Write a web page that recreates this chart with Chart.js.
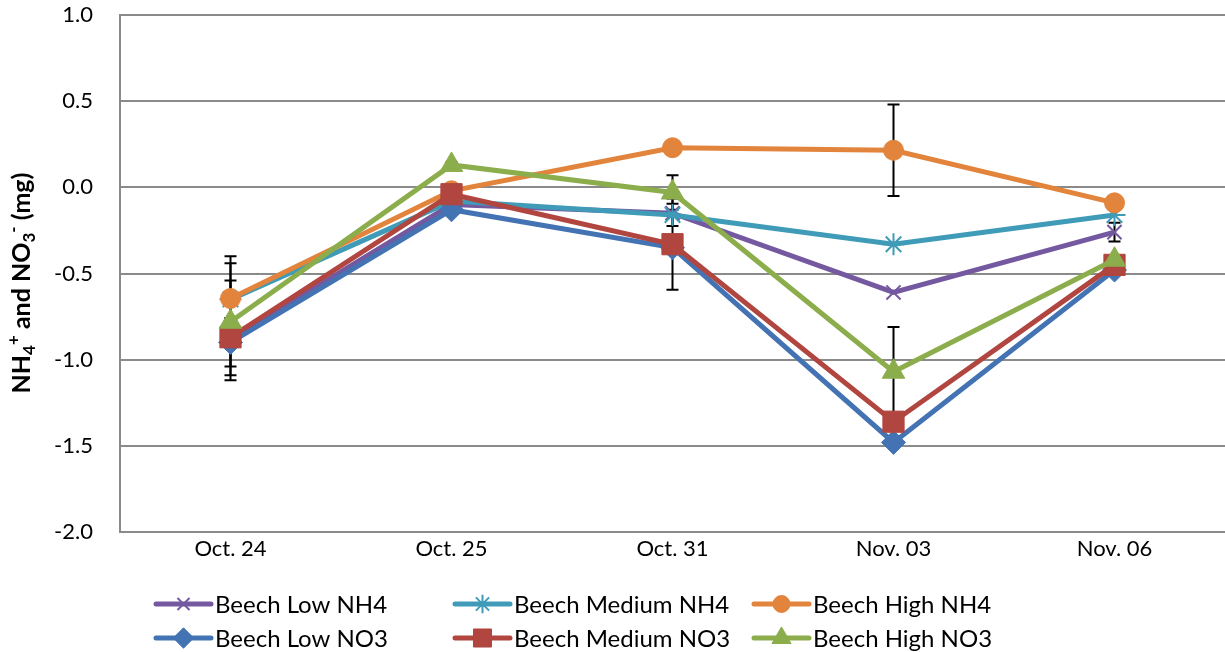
<!DOCTYPE html>
<html>
<head>
<meta charset="utf-8">
<script src="https://cdn.jsdelivr.net/npm/chart.js@4/dist/chart.umd.min.js"></script>
<style>
  html, body { margin: 0; padding: 0; background: #fff; overflow: hidden; }
  canvas { display: block; }
</style>
</head>
<body>
<canvas id="lineChart" width="1225" height="652"></canvas>
<script>
// data
const dates = ['Oct. 24', 'Oct. 25', 'Oct. 31', 'Nov. 03', 'Nov. 06'];
const yTicks = [1.0, 0.5, 0.0, -0.5, -1.0, -1.5, -2.0];

const lowNH4  = [-0.88, -0.10, -0.15, -0.61, -0.26];
const medNH4  = [-0.65, -0.08, -0.16, -0.33, -0.16];
const highNH4 = [-0.645, -0.02, 0.23, 0.215, -0.09];
const lowNO3  = [-0.90, -0.13, -0.35, -1.48, -0.48];
const medNO3  = [-0.87, -0.04, -0.33, -1.36, -0.45];
const highNO3 = [-0.78, 0.13, -0.03, -1.07, -0.42];

// error bar half widths (0 = none)
const lowNH4Err  = [0, 0, 0, 0, 0.055];
const medNH4Err  = [0.11, 0, 0.065, 0, 0];
const highNH4Err = [0.245, 0, 0, 0.265, 0];
const lowNO3Err  = [0.14, 0, 0, 0, 0];
const medNO3Err  = [0.22, 0, 0.265, 0, 0];
const highNO3Err = [0.34, 0.015, 0.10, 0.26, 0];

const seriesNames = ['Beech Low NH4', 'Beech Medium NH4', 'Beech High NH4',
                     'Beech Low NO3', 'Beech Medium NO3', 'Beech High NO3'];

const FONT = 'Lato, "Open Sans", sans-serif';

// style per series
const styles = [
  { color: '#7458a0', point: 'crossRot', r: 10, bw: 2 },
  { color: '#3f9bb7', point: 'star', r: 11, bw: 2 },
  { color: '#e2843c', point: 'circle', r: 10, bw: 1 },
  { color: '#4373b3', point: 'rectRot', r: 12, bw: 1 },
  { color: '#b0463f', point: 'rect', r: 15, bw: 1 },
  { color: '#8cad4b', point: 'triangle', r: 13, bw: 1 }
];
const allValues = [lowNH4, medNH4, highNH4, lowNO3, medNO3, highNO3];
const allErrors = [lowNH4Err, medNH4Err, highNH4Err, lowNO3Err, medNO3Err, highNO3Err];

const datasets = seriesNames.map((name, i) => ({
  label: name,
  data: allValues[i],
  errors: allErrors[i],
  borderColor: styles[i].color,
  backgroundColor: styles[i].color,
  borderWidth: 5,
  pointStyle: styles[i].point,
  pointRadius: styles[i].r,
  pointHoverRadius: styles[i].r,
  pointBorderWidth: styles[i].bw,
  pointBorderColor: styles[i].color,
  pointBackgroundColor: styles[i].color,
  tension: 0,
  order: 5 - i   // later series sit on top, like Excel
}));

// error bars, drawn under the lines/markers
const errorBars = {
  id: 'errorBars',
  beforeDatasetsDraw(chart) {
    const ctx = chart.ctx;
    const ys = chart.scales.y;
    ctx.save();
    ctx.strokeStyle = '#000';
    ctx.lineWidth = 2;
    chart.data.datasets.forEach((ds, di) => {
      const meta = chart.getDatasetMeta(di);
      ds.data.forEach((v, j) => {
        const e = ds.errors[j];
        if (!e) return;
        const x = meta.data[j].x;
        const top = ys.getPixelForValue(v + e);
        const bot = ys.getPixelForValue(v - e);
        ctx.beginPath();
        ctx.moveTo(x, top); ctx.lineTo(x, bot);
        ctx.moveTo(x - 6, top); ctx.lineTo(x + 6, top);
        ctx.moveTo(x - 6, bot); ctx.lineTo(x + 6, bot);
        ctx.stroke();
      });
    });
    ctx.restore();
  }
};

// y-axis title with sub / superscripts
const yTitle = {
  id: 'yTitle',
  afterDraw(chart) {
    const ctx = chart.ctx;
    const parts = [
      ['NH', 0], ['4', 1], ['+', -1], [' and NO', 0], ['3', 1], ['-', -1], [' (mg)', 0]
    ];
    const big = 'bold 25px ' + FONT;
    const small = 'bold 17px ' + FONT;
    ctx.save();
    let total = 0;
    parts.forEach(p => { ctx.font = p[1] ? small : big; total += ctx.measureText(p[0]).width; });
    ctx.translate(30, 283);
    ctx.rotate(-Math.PI / 2);
    ctx.fillStyle = '#000';
    ctx.textBaseline = 'alphabetic';
    let x = -total / 2;
    parts.forEach(p => {
      ctx.font = p[1] ? small : big;
      const dy = p[1] === 1 ? 5 : (p[1] === -1 ? -11 : 0);
      ctx.fillText(p[0], x, dy);
      x += ctx.measureText(p[0]).width;
    });
    ctx.restore();
  }
};

// legend: 3 columns x 2 rows, line sample with marker
const gridLegend = {
  id: 'gridLegend',
  afterDraw(chart) {
    const ctx = chart.ctx;
    ctx.save();
    chart.data.datasets.forEach((ds, i) => {
      const col = i % 3, row = Math.floor(i / 3);
      const x0 = 156 + col * 299;
      const y = 604 + row * 34;
      ctx.strokeStyle = ds.borderColor;
      ctx.lineWidth = 5;
      ctx.lineCap = 'round';
      ctx.beginPath();
      ctx.moveTo(x0, y); ctx.lineTo(x0 + 55, y);
      ctx.stroke();
      ctx.fillStyle = ds.backgroundColor;
      ctx.lineWidth = ds.pointBorderWidth;
      ctx.lineCap = 'butt';
      Chart.helpers.drawPoint(ctx, {
        pointStyle: ds.pointStyle,
        radius: ds.pointRadius * 0.85,
        borderWidth: ds.pointBorderWidth,
        rotation: 0
      }, x0 + 27.5, y);
      ctx.fillStyle = '#000';
      ctx.font = '24px ' + FONT;
      ctx.textBaseline = 'middle';
      ctx.textAlign = 'left';
      ctx.fillText(ds.label, x0 + 59, y + 1);
    });
    ctx.restore();
  }
};

const ctx = document.getElementById('lineChart').getContext('2d');
new Chart(ctx, {
  type: 'line',
  data: { labels: dates, datasets: datasets },
  plugins: [errorBars, yTitle, gridLegend],
  options: {
    responsive: false,
    animation: false,
    layout: { autoPadding: false, padding: { top: 15, right: 0, bottom: 92, left: 0 } },
    plugins: {
      legend: { display: false },
      tooltip: { enabled: false }
    },
    scales: {
      x: {
        offset: true,
        grid: { display: false, drawTicks: false },
        border: { display: false },
        ticks: { color: '#000', font: { family: FONT, size: 22 }, padding: 4, maxRotation: 0 },
        afterFit: s => { s.height = 28; s.paddingLeft = 0; s.paddingRight = 0; }
      },
      y: {
        min: -2, max: 1,
        afterBuildTicks: s => { s.ticks = yTicks.map(v => ({ value: v })); },
        grid: { color: '#8a8a8a', lineWidth: 2, drawTicks: false },
        border: { display: true, color: '#8a8a8a', width: 2 },
        ticks: {
          color: '#000',
          font: { family: FONT, size: 22 },
          padding: 27,
          callback: v => v.toFixed(1)
        },
        afterFit: s => { s.width = 120; s.paddingTop = 0; s.paddingBottom = 0; }
      }
    }
  }
});
</script>
</body>
</html>
